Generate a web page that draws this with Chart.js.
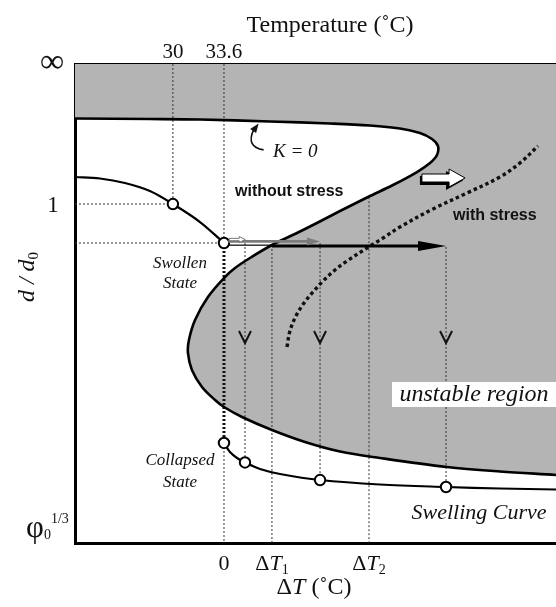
<!DOCTYPE html>
<html>
<head>
<meta charset="utf-8">
<title>Volume phase transition of a gel: swelling curve and unstable region</title>
<style>
  html, body { margin: 0; padding: 0; background: #ffffff; }
  canvas { display: block; }
</style>
<script src="https://cdn.jsdelivr.net/npm/chart.js"></script>
</head>
<body>
<canvas id="diagram" width="556" height="607"></canvas>
<script>
// Horizontal axis: temperature offset ΔT (°C) from the transition at 33.6 °C.
const X_MIN = -10.5, X_MAX = 23.4;
// Vertical axis: d/d0 in schematic units, φ0^1/3 at the bottom, ∞ at the top.
const Y_MIN = 0, Y_MAX = 100;

const topTickValues = [-3.6, 0];
const topTickLabels = ['30', '33.6'];
const bottomTickValues = [0, 3.38, 10.22];
const bottomTickLabels = ['0', 'ΔT1', 'ΔT2'];
const yTickValues = [100, 70.77, 0];
const yTickLabels = ['∞', '1', 'φ0^1/3'];

// K = 0 boundary: along the top, round the nose, back down to the left and out to the right.
const spinodalX = [-11.56, -10.5, -5.22, -1.69, 3.24, 7.47, 10.29, 12.4, 13.81, 14.66, 15.08, 15.01, 14.52, 13.6, 11.91, 10.15, 8.18, 6.55, 5.0, 3.38, 1.83, 0.78, 0.07, -1.13, -2.04, -2.47, -2.54, -2.26, -1.55, -0.63, 0, 1.27, 3.38, 5.71, 8.18, 10.99, 15.72, 19.45, 23.4, 24.39];
const spinodalY = [88.62, 88.62, 88.52, 88.41, 88.0, 87.58, 87.16, 86.53, 85.59, 84.34, 82.88, 81.0, 79.33, 77.45, 74.74, 72.23, 69.31, 66.81, 64.51, 62.21, 59.5, 57.41, 55.53, 51.36, 46.56, 42.38, 39.67, 36.12, 32.57, 29.85, 28.39, 26.3, 23.59, 21.09, 19.1, 17.75, 15.87, 14.93, 14.2, 13.99];

// Swelling curve: swollen branch (ΔT < 0) and collapsed branch (ΔT > 0).
const swollenX = [-11.2, -10.5, -8.74, -6.98, -5.22, -3.6, -1.69, 0];
const swollenY = [76.5, 76.41, 76.1, 75.16, 73.49, 70.77, 67.01, 62.63];
const collapsedX = [0, 0.42, 0.92, 1.48, 2.54, 3.95, 6.77, 10.99, 15.65, 19.45, 23.4, 24.39];
const collapsedY = [20.88, 19.0, 17.75, 16.81, 15.45, 14.41, 13.15, 12.21, 11.69, 11.38, 11.17, 11.1];

// Shifted boundary under stress.
const stressX = [4.44, 4.65, 5.07, 5.64, 6.27, 6.98, 7.82, 8.67, 10.08, 11.21, 12.4, 14.73, 17.13, 19.45, 20.86, 22.13];
const stressY = [40.92, 44.26, 47.39, 50.1, 52.4, 54.7, 56.99, 58.87, 61.59, 63.67, 65.97, 69.73, 73.07, 76.41, 79.33, 82.88];

// Marked states on the swelling curve.
const stateX = [-3.6, 0, 0, 1.48, 6.77, 15.65];
const stateY = [70.77, 62.63, 20.88, 16.81, 13.15, 11.69];

// Dotted guide lines [x1, y1, x2, y2].
const thinGuides = [
  [-3.6, 100, -3.6, 70.77], [-10.5, 70.77, -3.6, 70.77],
  [0, 100, 0, 62.63], [-10.5, 62.63, 0, 62.63],
  [0, 20.88, 0, 0],
  [1.48, 62.63, 1.48, 16.81],
  [3.38, 62.21, 3.38, 0],
  [6.77, 62.6, 6.77, 13.15],
  [10.22, 72.2, 10.22, 0],
  [15.65, 61.8, 15.65, 11.69]
];
const heavyGuides = [[0, 62.63, 0, 20.88]];

// Drop lines that end on the collapsed branch carry a downward chevron.
const dropX = [1.48, 6.77, 15.65];
const dropChevronY = 43.0;

const serif = '"Liberation Serif", "Times New Roman", serif';
const sans = '"Liberation Sans", Arial, sans-serif';
const GRAY = '#b4b4b4';

const pts = (xs, ys) => xs.map((x, i) => ({ x, y: ys[i] }));
const seg = s => [{ x: s[0], y: s[1] }, { x: s[2], y: s[3] }];

const spinodalPts = pts(spinodalX, spinodalY);
const grayRegion = [{ x: -12.5, y: 103 }].concat(spinodalPts, [{ x: 25.5, y: 103 }]);

const datasets = [
  {
    data: grayRegion, fill: 'shape', backgroundColor: GRAY,
    borderColor: 'rgba(0,0,0,0)', borderWidth: 0, tension: 0.35, pointRadius: 0, order: 10
  },
  ...thinGuides.map(s => ({
    data: seg(s), borderColor: '#333', borderWidth: 1, borderDash: [2, 2],
    pointRadius: 0, tension: 0, fill: false, order: 6
  })),
  ...heavyGuides.map(s => ({
    data: seg(s), borderColor: '#111', borderWidth: 3, borderDash: [2, 2],
    pointRadius: 0, tension: 0, fill: false, order: 5
  })),
  {
    data: spinodalPts, borderColor: '#000', borderWidth: 2.6, tension: 0.35,
    pointRadius: 0, fill: false, order: 3
  },
  {
    data: pts(stressX, stressY), borderColor: '#111', borderWidth: 3.4, borderDash: [3.5, 3],
    tension: 0.35, pointRadius: 0, fill: false, order: 3
  },
  {
    data: pts(swollenX, swollenY), borderColor: '#000', borderWidth: 2.2, tension: 0.35,
    pointRadius: 0, fill: false, order: 2
  },
  {
    data: pts(collapsedX, collapsedY), borderColor: '#000', borderWidth: 2.2, tension: 0.35,
    pointRadius: 0, fill: false, order: 2
  },
  {
    data: pts(stateX, stateY), showLine: false, pointRadius: 5.2, pointBorderWidth: 2,
    pointBackgroundColor: '#fff', pointBorderColor: '#000', fill: false, order: 0
  }
];

function rich(ctx, parts, x, y, align) {
  let w = 0;
  for (const p of parts) { ctx.font = p.font; p.w = ctx.measureText(p.text).width; w += p.w; }
  let cx = align === 'center' ? x - w / 2 : (align === 'right' ? x - w : x);
  ctx.textAlign = 'left';
  for (const p of parts) { ctx.font = p.font; ctx.fillText(p.text, cx, y + (p.dy || 0)); cx += p.w; }
}

function deltaTParts(label, size) {
  if (label.startsWith('ΔT')) {
    const parts = [
      { text: 'Δ', font: `${size}px ${serif}` },
      { text: 'T', font: `italic ${size}px ${serif}` }
    ];
    if (label.length > 2) parts.push({ text: label.slice(2), font: `${Math.round(size * 0.62)}px ${serif}`, dy: 4 });
    return parts;
  }
  return [{ text: label, font: `${size}px ${serif}` }];
}

function arrowPath(ctx, x1, y, x2, half, headLen, headHalf) {
  ctx.beginPath();
  ctx.moveTo(x1, y - half);
  ctx.lineTo(x2 - headLen, y - half);
  ctx.lineTo(x2 - headLen, y - headHalf);
  ctx.lineTo(x2, y);
  ctx.lineTo(x2 - headLen, y + headHalf);
  ctx.lineTo(x2 - headLen, y + half);
  ctx.lineTo(x1, y + half);
  ctx.closePath();
}

const diagramMarks = {
  id: 'diagramMarks',
  afterDatasetsDraw(chart) {
    const { ctx, chartArea: a } = chart;
    const X = v => chart.scales.x.getPixelForValue(v);
    const Y = v => chart.scales.y.getPixelForValue(v);
    ctx.save();
    ctx.beginPath();
    ctx.rect(a.left, a.top, a.right - a.left, a.bottom - a.top);
    ctx.clip();

    // Temperature jumps from the swollen state at ΔT = 0
    const x0 = X(0.3);
    ctx.fillStyle = '#000';
    ctx.fillRect(x0, Y(62.2) - 0.5, X(3.38) - x0, 1.2);
    arrowPath(ctx, X(3.38), Y(62.0), X(15.65), 1.6, 28, 5);
    ctx.fill();
    ctx.fillStyle = '#7c7c7c';
    arrowPath(ctx, x0, Y(62.95), X(6.77), 1.4, 13, 4);
    ctx.fill();
    ctx.fillStyle = '#fff';
    ctx.strokeStyle = '#555';
    ctx.lineWidth = 0.8;
    arrowPath(ctx, x0 + 1, Y(63.35), X(1.5), 1.2, 6, 3);
    ctx.fill();
    ctx.stroke();

    // Chevrons on the drop lines
    ctx.strokeStyle = '#111';
    ctx.lineWidth = 2;
    ctx.lineJoin = 'miter';
    for (const dx of dropX) {
      const cx = X(dx), cy = Y(dropChevronY);
      ctx.beginPath();
      ctx.moveTo(cx - 6, cy - 6);
      ctx.lineTo(cx, cy + 6);
      ctx.lineTo(cx + 6, cy - 6);
      ctx.stroke();
    }

    // Shift of the boundary under stress
    const bx1 = X(13.95), bx2 = X(16.99), by = Y(76.2);
    ctx.fillStyle = '#000';
    arrowPath(ctx, bx1 - 2, by + 2.5, bx2 - 2, 4.5, 17, 9.5);
    ctx.fill();
    ctx.fillStyle = '#fff';
    ctx.strokeStyle = '#000';
    ctx.lineWidth = 1;
    arrowPath(ctx, bx1, by, bx2, 4, 16, 9);
    ctx.fill();
    ctx.stroke();

    // Hook pointing to the K = 0 line
    const hx = X(2.3), hy = Y(85.2);
    ctx.strokeStyle = '#111';
    ctx.lineWidth = 1.6;
    ctx.beginPath();
    ctx.moveTo(hx + 7, hy + 15);
    ctx.quadraticCurveTo(hx - 11, hy + 12, hx - 3, hy - 5);
    ctx.stroke();
    ctx.fillStyle = '#111';
    ctx.beginPath();
    ctx.moveTo(hx + 2, hy - 11.5);
    ctx.lineTo(hx - 6.5, hy - 6);
    ctx.lineTo(hx - 0.5, hy - 2);
    ctx.closePath();
    ctx.fill();

    // Labels inside the plot
    ctx.fillStyle = '#111';
    ctx.textBaseline = 'alphabetic';
    rich(ctx, [{ text: 'K = 0', font: `italic 19px ${serif}` }], 273, 157, 'left');
    rich(ctx, [{ text: 'without stress', font: `bold 16px ${sans}` }], 235, 196, 'left');
    rich(ctx, [{ text: 'with stress', font: `bold 16px ${sans}` }], 453, 220, 'left');
    rich(ctx, [{ text: 'Swollen', font: `italic 17px ${serif}` }], 180, 268, 'center');
    rich(ctx, [{ text: 'State', font: `italic 17px ${serif}` }], 180, 288, 'center');
    rich(ctx, [{ text: 'Collapsed', font: `italic 17px ${serif}` }], 180, 465, 'center');
    rich(ctx, [{ text: 'State', font: `italic 17px ${serif}` }], 180, 487, 'center');

    ctx.fillStyle = '#fff';
    ctx.fillRect(392, 382, 164, 25);
    ctx.fillStyle = '#111';
    rich(ctx, [{ text: 'unstable region', font: `italic 24px ${serif}` }], 474, 401, 'center');
    rich(ctx, [{ text: 'Swelling Curve', font: `italic 22px ${serif}` }], 479, 519, 'center');
    ctx.restore();
  },
  afterDraw(chart) {
    const { ctx } = chart;
    const X = v => chart.scales.x.getPixelForValue(v);
    const Y = v => chart.scales.y.getPixelForValue(v);
    ctx.save();
    ctx.fillStyle = '#111';
    ctx.textBaseline = 'alphabetic';

    // Top axis: temperature
    rich(ctx, [{ text: 'Temperature (˚C)', font: `24px ${serif}` }], 330, 32, 'center');
    topTickValues.forEach((v, i) => rich(ctx, [{ text: topTickLabels[i], font: `21px ${serif}` }], X(v), 58, 'center'));

    // Bottom axis: ΔT
    bottomTickValues.forEach((v, i) => rich(ctx, deltaTParts(bottomTickLabels[i], 22), X(v), 570, 'center'));
    rich(ctx, deltaTParts('ΔT', 24).concat([{ text: ' (˚C)', font: `24px ${serif}` }]), 314, 594, 'center');

    // Left axis: d/d0
    yTickValues.forEach((v, i) => {
      const lab = yTickLabels[i];
      if (lab.includes('^')) {
        const [main, sup] = lab.split('^');
        rich(ctx, [
          { text: main[0], font: `31px ${serif}` },
          { text: main.slice(1), font: `14px ${serif}`, dy: 2 },
          { text: sup, font: `14px ${serif}`, dy: -14 }
        ], 26, Y(v) - 6, 'left');
      } else if (lab === '∞') {
        rich(ctx, [{ text: lab, font: `34px ${serif}` }], 52, Y(v) + 8, 'center');
      } else {
        rich(ctx, [{ text: lab, font: `23px ${serif}` }], 53, Y(v) + 8, 'center');
      }
    });

    ctx.save();
    ctx.translate(27, 277);
    ctx.rotate(-Math.PI / 2);
    rich(ctx, [
      { text: 'd / d', font: `italic 24px ${serif}` },
      { text: '0', font: `15px ${serif}`, dy: 4 }
    ], 0, 7, 'center');
    ctx.restore();
    ctx.restore();
  }
};

const axisBorder = { display: true, color: '#000', width: 3 };
const hiddenGrid = { display: false, drawTicks: false };

new Chart(document.getElementById('diagram'), {
  type: 'line',
  data: { datasets },
  options: {
    responsive: false,
    animation: false,
    events: [],
    layout: { padding: 0, autoPadding: false },
    elements: { line: { capBezierPoints: false }, point: { radius: 0 } },
    plugins: { legend: { display: false }, tooltip: { enabled: false } },
    scales: {
      x: {
        type: 'linear', position: 'bottom', min: X_MIN, max: X_MAX, z: 1,
        grid: hiddenGrid, border: axisBorder, ticks: { display: false },
        afterFit(s) { s.height = 64; }
      },
      xTemp: {
        type: 'linear', position: 'top', min: X_MIN, max: X_MAX, z: 1,
        grid: hiddenGrid, border: axisBorder, ticks: { display: false },
        afterFit(s) { s.height = 64; }
      },
      y: {
        type: 'linear', position: 'left', min: Y_MIN, max: Y_MAX, z: 1,
        grid: hiddenGrid, border: axisBorder, ticks: { display: false },
        afterFit(s) { s.width = 75; }
      }
    }
  },
  plugins: [diagramMarks]
});
</script>
</body>
</html>
